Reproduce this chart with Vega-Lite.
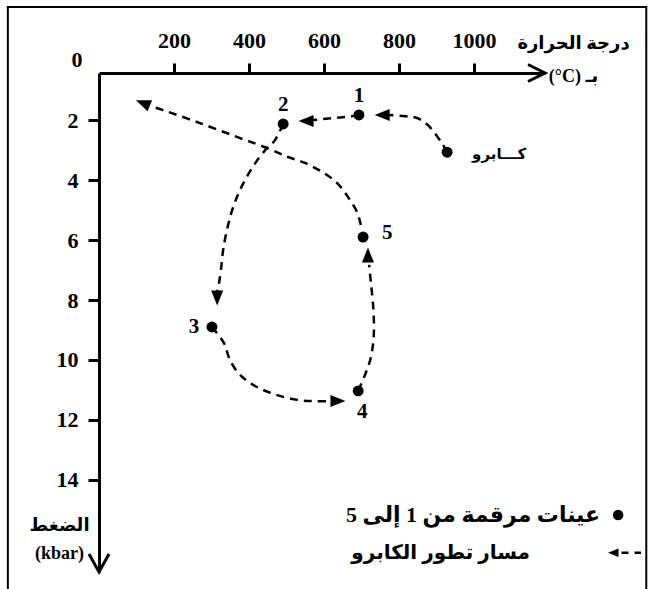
{
  "$schema": "https://vega.github.io/schema/vega-lite/v6.json",
  "width": 446,
  "height": 499,
  "autosize": {"type": "none"},
  "padding": {"left": 99, "top": 73, "right": 103, "bottom": 17},
  "background": "white",
  "config": {
    "view": {"stroke": null},
    "axis": {
      "grid": false,
      "domainColor": "black",
      "domainWidth": 3,
      "tickColor": "black",
      "tickWidth": 3,
      "labelFont": "Liberation Serif, Times New Roman, serif",
      "labelFontWeight": "bold",
      "labelFontSize": 22,
      "labelColor": "black",
      "titleColor": "black",
      "titleFont": "Liberation Serif, DejaVu Sans",
      "titleFontWeight": "bold",
      "titleFontSize": 18
    }
  },
  "datasets": {
    "samples": [
      {"id": "1", "T": 693, "P": 1.83, "pos": "above"},
      {"id": "2", "T": 491, "P": 2.13, "pos": "above"},
      {"id": "3", "T": 301, "P": 8.9, "pos": "left"},
      {"id": "4", "T": 691, "P": 11.03, "pos": "below"},
      {"id": "5", "T": 704, "P": 5.9, "pos": "right"},
      {"id": "كـــابرو", "T": 928, "P": 3.07, "pos": "name"}
    ],
    "path": [
      {"seg": "A", "i": 0, "T": 928, "P": 3.07},
      {"seg": "A", "i": 1, "T": 912, "P": 2.73},
      {"seg": "A", "i": 2, "T": 877, "P": 2.17},
      {"seg": "A", "i": 3, "T": 848, "P": 1.93},
      {"seg": "A", "i": 4, "T": 816, "P": 1.87},
      {"seg": "A", "i": 5, "T": 771, "P": 1.83},
      {"seg": "B", "i": 0, "T": 693, "P": 1.85},
      {"seg": "B", "i": 1, "T": 571, "P": 2.0},
      {"seg": "C", "i": 0, "T": 491, "P": 2.13},
      {"seg": "C", "i": 1, "T": 469, "P": 2.67},
      {"seg": "C", "i": 2, "T": 443, "P": 3.0},
      {"seg": "C", "i": 3, "T": 408, "P": 3.6},
      {"seg": "C", "i": 4, "T": 376, "P": 4.33},
      {"seg": "C", "i": 5, "T": 355, "P": 5.0},
      {"seg": "C", "i": 6, "T": 341, "P": 5.67},
      {"seg": "C", "i": 7, "T": 331, "P": 6.33},
      {"seg": "C", "i": 8, "T": 325, "P": 7.0},
      {"seg": "C", "i": 9, "T": 320, "P": 7.43},
      {"seg": "C", "i": 10, "T": 315, "P": 7.73},
      {"seg": "D", "i": 0, "T": 301, "P": 8.9},
      {"seg": "D", "i": 1, "T": 333, "P": 9.43},
      {"seg": "D", "i": 2, "T": 349, "P": 10.0},
      {"seg": "D", "i": 3, "T": 376, "P": 10.5},
      {"seg": "D", "i": 4, "T": 421, "P": 10.9},
      {"seg": "D", "i": 5, "T": 475, "P": 11.17},
      {"seg": "D", "i": 6, "T": 528, "P": 11.33},
      {"seg": "D", "i": 7, "T": 571, "P": 11.37},
      {"seg": "D", "i": 8, "T": 616, "P": 11.37},
      {"seg": "E", "i": 0, "T": 691, "P": 11.03},
      {"seg": "E", "i": 1, "T": 709, "P": 10.5},
      {"seg": "E", "i": 2, "T": 723, "P": 10.0},
      {"seg": "E", "i": 3, "T": 731, "P": 9.43},
      {"seg": "E", "i": 4, "T": 733, "P": 8.9},
      {"seg": "E", "i": 5, "T": 731, "P": 8.23},
      {"seg": "E", "i": 6, "T": 725, "P": 7.43},
      {"seg": "E", "i": 7, "T": 720, "P": 6.83},
      {"seg": "F", "i": 0, "T": 698, "P": 5.5},
      {"seg": "F", "i": 1, "T": 688, "P": 5.07},
      {"seg": "F", "i": 2, "T": 664, "P": 4.57},
      {"seg": "F", "i": 3, "T": 635, "P": 4.1},
      {"seg": "F", "i": 4, "T": 595, "P": 3.73},
      {"seg": "F", "i": 5, "T": 549, "P": 3.43},
      {"seg": "F", "i": 6, "T": 504, "P": 3.23},
      {"seg": "F", "i": 7, "T": 448, "P": 2.93},
      {"seg": "F", "i": 8, "T": 376, "P": 2.6},
      {"seg": "F", "i": 9, "T": 269, "P": 2.1},
      {"seg": "F", "i": 10, "T": 171, "P": 1.67},
      {"seg": "F", "i": 11, "T": 136, "P": 1.53}
    ],
    "arrows": [
      {"T": 755, "P": 1.83, "dir": "left"},
      {"T": 552, "P": 2.03, "dir": "left"},
      {"T": 315, "P": 7.93, "dir": "down"},
      {"T": 637, "P": 11.37, "dir": "right"},
      {"T": 717, "P": 6.5, "dir": "up"},
      {"T": 117, "P": 1.43, "dir": "upleft"}
    ]
  },
  "encoding": {
    "x": {
      "field": "T",
      "type": "quantitative",
      "scale": {"domain": [0, 1189], "nice": false, "zero": false},
      "axis": {
        "orient": "top",
        "values": [200, 400, 600, 800, 1000],
        "format": "d",
        "tickSize": 10,
        "labelPadding": 11,
        "labelFlush": false,
        "labelFont": "Liberation Serif",
        "title": ["درجة الحرارة", "(°C) بـ"],
        "titleX": 474,
        "titleY": -30,
        "titleAlign": "center",
        "titleBaseline": "middle",
        "titleLineHeight": 33,
        "titleAngle": 0
      }
    },
    "y": {
      "field": "P",
      "type": "quantitative",
      "scale": {"domain": [0.43, 17.07], "nice": false, "zero": false, "reverse": true},
      "axis": {
        "orient": "left",
        "values": [2, 4, 6, 8, 10, 12, 14],
        "tickSize": 11,
        "labelPadding": 10,
        "labelFlush": false,
        "labelFont": "Liberation Serif",
        "title": ["الضغط", "(kbar)"],
        "titleAngle": 0,
        "titleX": -40,
        "titleY": 452,
        "titleAlign": "center",
        "titleBaseline": "middle",
        "titleLineHeight": 28
      }
    }
  },
  "layer": [
    {
      "data": {"values": [{"T": -243, "P": -1.77, "T2": 1459, "P2": 18.2}]},
      "mark": {"type": "rect", "fillOpacity": 0, "stroke": "black", "strokeWidth": 2},
      "encoding": {"x2": {"field": "T2"}, "y2": {"field": "P2"}}
    },
    {
      "data": {"name": "path"},
      "mark": {"type": "line", "interpolate": "catmull-rom", "strokeDash": [8, 6], "strokeWidth": 2.5, "color": "black"},
      "encoding": {"detail": {"field": "seg"}, "order": {"field": "i", "type": "quantitative"}}
    },
    {
      "data": {"name": "arrows"},
      "mark": {"type": "point", "filled": true, "color": "black", "opacity": 1, "size": 225},
      "encoding": {
        "shape": {
          "field": "dir",
          "type": "nominal",
          "legend": null,
          "scale": {
            "domain": ["left", "right", "up", "down", "upleft"],
            "range": ["M-1,0L1,-0.8L1,0.8Z", "M1,0L-1,-0.8L-1,0.8Z", "M0,-1L-0.8,1L0.8,1Z", "M0,1L-0.8,-1L0.8,-1Z", "M-0.93,-0.37L1.23,-0.37L0.63,1.11Z"]
          }
        }
      }
    },
    {
      "data": {"name": "samples"},
      "mark": {"type": "circle", "size": 120, "color": "black", "opacity": 1}
    },
    {
      "data": {"name": "samples"},
      "transform": [{"filter": "datum.pos == 'above'"}],
      "mark": {"type": "text", "font": "Liberation Serif", "fontWeight": "bold", "fontSize": 21, "dy": -19, "align": "center", "baseline": "middle", "color": "black"},
      "encoding": {"text": {"field": "id"}}
    },
    {
      "data": {"name": "samples"},
      "transform": [{"filter": "datum.pos == 'left'"}],
      "mark": {"type": "text", "font": "Liberation Serif", "fontWeight": "bold", "fontSize": 21, "dx": -18, "align": "center", "baseline": "middle", "color": "black"},
      "encoding": {"text": {"field": "id"}}
    },
    {
      "data": {"name": "samples"},
      "transform": [{"filter": "datum.pos == 'below'"}],
      "mark": {"type": "text", "font": "Liberation Serif", "fontWeight": "bold", "fontSize": 21, "dx": 4, "dy": 21, "align": "center", "baseline": "middle", "color": "black"},
      "encoding": {"text": {"field": "id"}}
    },
    {
      "data": {"name": "samples"},
      "transform": [{"filter": "datum.pos == 'right'"}],
      "mark": {"type": "text", "font": "Liberation Serif", "fontWeight": "bold", "fontSize": 21, "dx": 19, "dy": -4, "align": "left", "baseline": "middle", "color": "black"},
      "encoding": {"text": {"field": "id"}}
    },
    {
      "data": {"name": "samples"},
      "transform": [{"filter": "datum.pos == 'name'"}],
      "mark": {"type": "text", "font": "DejaVu Sans", "fontWeight": "bold", "fontSize": 15, "dx": 25, "dy": 2, "align": "left", "baseline": "middle", "color": "black"},
      "encoding": {"text": {"field": "id"}}
    },
    {
      "data": {"values": [{"T": 0, "P": 0.43, "label": "0"}]},
      "mark": {"type": "text", "font": "Liberation Serif", "fontWeight": "bold", "fontSize": 22, "dx": -22, "dy": -13, "align": "center", "baseline": "middle", "color": "black"},
      "encoding": {"text": {"field": "label"}}
    },
    {
      "data": {"values": [{"T": 1189, "P": 0.43}]},
      "mark": {"type": "point", "shape": "M-2,-1L0,0L-2,1", "filled": false, "stroke": "black", "strokeWidth": 3, "size": 289, "opacity": 1}
    },
    {
      "data": {"values": [{"T": 0, "P": 17.07}]},
      "mark": {"type": "point", "shape": "M-1,-1.8L0,0L1,-1.8", "filled": false, "stroke": "black", "strokeWidth": 3, "size": 400, "opacity": 1}
    },
    {
      "data": {"values": [{"T": 1384, "P": 15.17}]},
      "mark": {"type": "circle", "size": 110, "color": "black", "opacity": 1}
    },
    {
      "data": {"values": [{"T": 1336, "P": 15.17, "label": "عينات مرقمة من 1 إلى 5"}]},
      "mark": {"type": "text", "font": "Liberation Serif, DejaVu Sans", "fontWeight": "bold", "fontSize": 22, "align": "right", "baseline": "middle", "color": "black"},
      "encoding": {"text": {"field": "label"}}
    },
    {
      "data": {"values": [{"T": 1149, "P": 16.43, "label": "مسار تطور الكابرو"}]},
      "mark": {"type": "text", "font": "Liberation Serif, DejaVu Sans", "fontWeight": "bold", "fontSize": 20, "align": "right", "baseline": "middle", "color": "black"},
      "encoding": {"text": {"field": "label"}}
    },
    {
      "data": {"values": [{"T": 1371, "P": 16.43, "dir": "left"}]},
      "mark": {"type": "point", "shape": "M-1,0L1,-0.8L1,0.8Z", "filled": true, "color": "black", "size": 110, "opacity": 1}
    },
    {
      "data": {"values": [{"T": 1393, "P": 16.43, "T2": 1445}]},
      "mark": {"type": "rule", "strokeDash": [7, 6], "strokeWidth": 2.5, "color": "black"},
      "encoding": {"x2": {"field": "T2"}}
    }
  ]
}
